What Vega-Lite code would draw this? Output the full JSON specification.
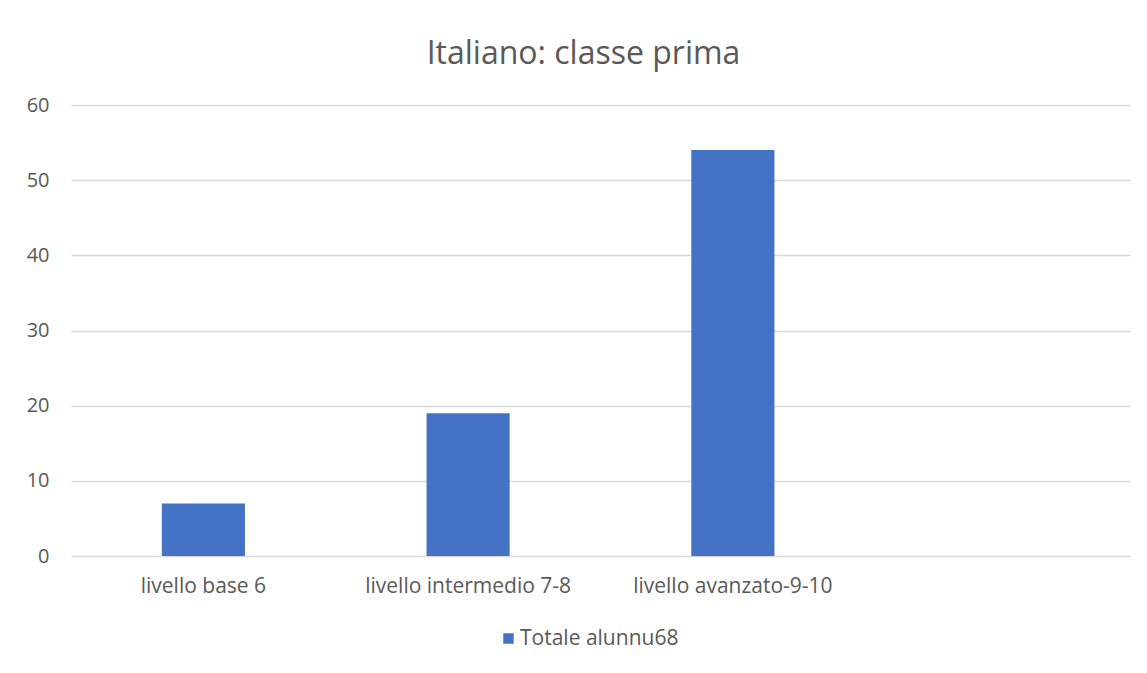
{
  "$schema": "https://vega.github.io/schema/vega-lite/v6.json",
  "width": 1059,
  "height": 451,
  "autosize": {"type": "none"},
  "padding": {"left": 71, "top": 105, "right": 17, "bottom": 117},
  "background": "white",
  "title": {
    "text": "Italiano: classe prima",
    "font": "Open Sans",
    "fontSize": 32,
    "fontWeight": "normal",
    "color": "#595959",
    "anchor": "middle",
    "frame": "group",
    "dx": -17,
    "offset": 24
  },
  "data": {
    "values": [
      {"livello": "livello base 6", "alunni": 7, "serie": "Totale alunnu68"},
      {"livello": "livello intermedio 7-8", "alunni": 19, "serie": "Totale alunnu68"},
      {"livello": "livello avanzato-9-10", "alunni": 54, "serie": "Totale alunnu68"}
    ]
  },
  "mark": {"type": "bar"},
  "encoding": {
    "x": {
      "field": "livello",
      "type": "nominal",
      "sort": null,
      "scale": {
        "domain": ["livello base 6", "livello intermedio 7-8", "livello avanzato-9-10", " "],
        "paddingInner": 0.686,
        "paddingOuter": 0.343
      },
      "axis": {
        "title": null,
        "labelAngle": 0,
        "labelFont": "Open Sans",
        "labelFontSize": 21,
        "labelLimit": 0,
        "labelColor": "#595959",
        "labelPadding": 19,
        "ticks": false,
        "domain": false,
        "grid": false
      }
    },
    "y": {
      "field": "alunni",
      "type": "quantitative",
      "scale": {"domain": [0, 60], "nice": false},
      "axis": {
        "title": null,
        "values": [0, 10, 20, 30, 40, 50, 60],
        "labelFont": "Open Sans",
        "labelFontSize": 20,
        "labelColor": "#595959",
        "labelPadding": 22,
        "ticks": false,
        "domain": false,
        "grid": true,
        "gridColor": "#d9d9d9",
        "gridWidth": 1.5
      }
    },
    "color": {
      "field": "serie",
      "type": "nominal",
      "scale": {"range": ["#4472c4"]},
      "legend": {
        "title": null,
        "orient": "none",
        "legendX": 427,
        "legendY": 523,
        "direction": "horizontal",
        "symbolType": "square",
        "symbolSize": 110,
        "symbolStrokeWidth": 0,
        "labelFont": "Open Sans",
        "labelFontSize": 21,
        "labelLimit": 0,
        "labelColor": "#595959",
        "labelOffset": 1
      }
    }
  },
  "config": {
    "view": {"stroke": null}
  }
}
